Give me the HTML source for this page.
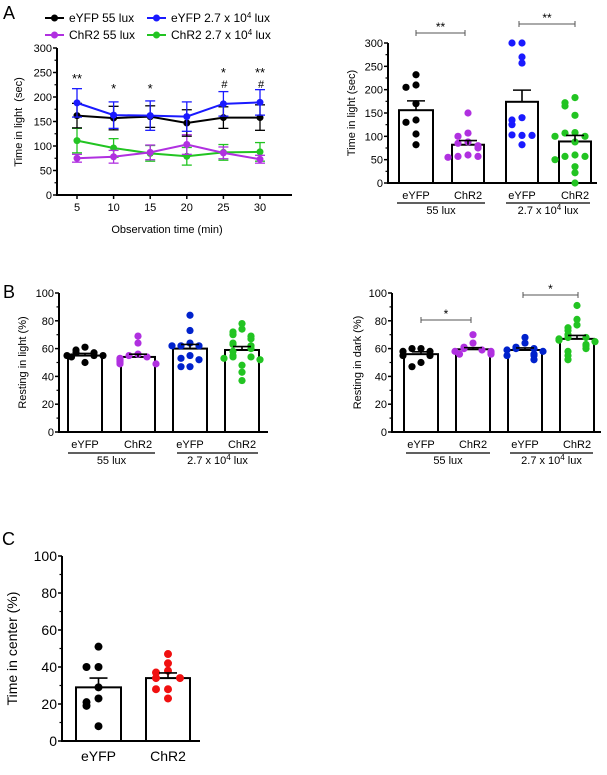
<!DOCTYPE html>
<html><head><meta charset="utf-8"><style>
body{margin:0;background:#fff}
svg{display:block;font-family:"Liberation Sans",Arial,sans-serif}
</style></head><body>
<svg id="fig" width="607" height="775" viewBox="0 0 607 775" xmlns="http://www.w3.org/2000/svg"></svg>
<script>
// ---- Panel A line chart data ----
const timeCats = [5,10,15,20,25,30];
const eyfp55Mean = [162,157,160,147,158,158];
const eyfp55Err  = [25,24,22,27,22,26];
const eyfpHiMean = [188,163,162,160,186,189];
const eyfpHiErr  = [29,27,30,30,25,26];
const chr55Mean  = [75,78,87,103,86,73];
const chr55Err   = [8,13,15,20,12,8];
const chrHiMean  = [111,96,85,79,87,88];
const chrHiErr   = [25,19,16,18,16,19];
const aYTicks = [0,50,100,150,200,250,300];
const aSigTop = ["**","*","*","","*","**"];
const aSigHash = ["","","","","#","#"];
// ---- Panel A bar data (time in light) ----
const aBarLabels = ["eYFP","ChR2","eYFP","ChR2"];
const aBarMeans = [156,82,174,89];
const aBarSem = [20,9,25,13];
const aPts0 = [232,210,205,170,135,130,105,82];
const aPts1 = [150,107,100,88,85,80,75,60,57,57,55];
const aPts2 = [300,300,270,257,140,135,125,102,103,102,82];
const aPts3 = [183,172,165,145,108,107,100,100,88,60,57,57,50,35,22,0];
// ---- Panel B left (resting in light) ----
const bLMeans = [55,54,60,59];
const bLSem = [1.5,2,3,2.5];
const bLPts0 = [61,59,57,57,55,55,55,54,50];
const bLPts1 = [69,64,56,55,54,53,52,51,50,49,49];
const bLPts2 = [84,73,64,62,62,62,55,53,52,47,47];
const bLPts3 = [78,74,72,70,69,67,64,63,62,60,58,55,54,54,53,52,48,43,37];
// ---- Panel B right (resting in dark) ----
const bRMeans = [56,59.5,59,67];
const bRSem = [1.7,1.2,1.5,2.5];
const bRPts0 = [60,60,58,58,55,55,50,47];
const bRPts1 = [70,64,61,60,59,58,58,57,56,56];
const bRPts2 = [68,64,61,60,60,59,58,56,55,55,52];
const bRPts3 = [91,81,77,75,73,70,68,68,67,66,65,63,62,60,58,55,52];
const pctTicks = [0,20,40,60,80,100];
// ---- Panel C (time in center) ----
const cLabels = ["eYFP","ChR2"];
const cMeans = [29,34];
const cSem = [5,2.8];
const cPts0 = [51,40,40,29,23,21,19,8];
const cPts1 = [47,42,38,37,34,34,28,28,23];

const svg = document.getElementById('fig');
const NS = 'http://www.w3.org/2000/svg';
function mk(tag, attrs, parent, name){
  const e = document.createElementNS(NS, tag);
  for (const k in attrs) e.setAttribute(k, attrs[k]);
  
  
  (parent||svg).appendChild(e);
  return e;
}
function txt(x,y,s,size,anchor,parent,name,extra){
  const t = mk('text',Object.assign({x:x,y:y,'font-size':size,'text-anchor':anchor||'middle',fill:'#000'},extra||{}),parent,name);
  t.innerHTML = s;
  return t;
}
function yAxis(g,x,y0,y1,vmin,vmax,ticks,fs,name){
  const sy = v => y0 - (v-vmin)/(vmax-vmin)*(y0-y1);
  mk('line',{x1:x,y1:y0+1,x2:x,y2:y1,stroke:'#000','stroke-width':2},g,name+'-line');
  ticks.forEach((t,i)=>{
    mk('line',{x1:x-4,y1:sy(t),x2:x,y2:sy(t),stroke:'#000','stroke-width':1.5},g,name+'-tick');
    txt(x-5,sy(t)+fs*0.36,t,fs,'end',g,name+'-label');
    if(i<ticks.length-1){const m=(t+ticks[i+1])/2;
      mk('line',{x1:x-2.5,y1:sy(m),x2:x,y2:sy(m),stroke:'#000','stroke-width':1.2},g,name+'-minor-tick');}
  });
  return sy;
}
function jitter(pts, w){
  const out=[]; const used=[];
  pts.forEach(v=>{
    let row = used.filter(u=>Math.abs(u-v)<w.tol).length;
    used.push(v);
    const pattern=[0,-1,1,-2,2,-1.5,1.5];
    out.push(pattern[row%pattern.length]*w.step);
  });
  return out;
}
function barPanel(o){
  const g = mk('g',{},svg,o.name);
  const sy = yAxis(g,o.ax,o.y0,o.y1,0,o.vmax,o.ticks,o.fs,o.name+'-y-axis');
  mk('line',{x1:o.ax-1,y1:o.y0,x2:o.axEnd,y2:o.y0,stroke:'#000','stroke-width':2},g,o.name+'-x-axis');
  o.means.forEach((m,i)=>{
    const [l,r]=o.bars[i], cx=(l+r)/2;
    mk('rect',{x:l,y:sy(m),width:r-l,height:o.y0-sy(m),fill:'#fff',stroke:'#000','stroke-width':2},g,o.name+'-bar-'+i);
    const offs = jitter(o.pts[i],{tol:o.tol,step:o.step});
    o.pts[i].forEach((v,j)=>{
      mk('circle',{cx:cx+offs[j],cy:sy(v),r:o.r,fill:o.colors[i]},g,o.name+'-point');
    });
    const ey = sy(m+o.sem[i]);
    mk('line',{x1:cx,y1:sy(m),x2:cx,y2:ey,stroke:'#000','stroke-width':1.6},g,o.name+'-error-'+i);
    mk('line',{x1:cx-9,y1:ey,x2:cx+9,y2:ey,stroke:'#000','stroke-width':1.6},g,o.name+'-error-cap-'+i);
    txt(cx,o.labY,o.labels[i],o.lfs,'middle',g,o.name+'-x-label');
  });
  if(o.groups){
    o.groups.forEach(gr=>{
      mk('line',{x1:gr[0],y1:o.gY,x2:gr[1],y2:o.gY,stroke:'#000','stroke-width':1.2},g,o.name+'-group-line');
      txt((gr[0]+gr[1])/2,o.gY+11,gr[2],11,'middle',g,o.name+'-group-label');
    });
  }
  (o.sig||[]).forEach(s=>{
    mk('line',{x1:s[0],y1:s[2],x2:s[1],y2:s[2],stroke:'#555','stroke-width':1},g,o.name+'-sig-bracket');
    mk('line',{x1:s[0],y1:s[2]-3,x2:s[0],y2:s[2]+3,stroke:'#555','stroke-width':1},g,o.name+'-sig-tick');
    mk('line',{x1:s[1],y1:s[2]-3,x2:s[1],y2:s[2]+3,stroke:'#555','stroke-width':1},g,o.name+'-sig-tick');
    txt((s[0]+s[1])/2,s[2]-2,s[3],12,'middle',g,o.name+'-sig-star');
  });
  const t=txt(0,0,o.ylabel,o.yfs,'middle',g,o.name+'-y-title');
  t.setAttribute('transform','translate('+o.ylx+','+((o.y0+o.y1)/2)+') rotate(-90)');
}

// ---- Panel A line chart ----
(function(){
  const g = mk('g',{},svg,'panel-a-line-chart');
  txt(3,19,'A',18,'start',g,'panel-a-letter');
  const sy = yAxis(g,57,195,48,0,300,aYTicks,11,'a-line-y-axis');
  const sx = v => 77 + (v-5)/25*183;
  mk('line',{x1:56,y1:195,x2:292,y2:195,stroke:'#000','stroke-width':2},g,'a-line-x-axis');
  timeCats.forEach(t=>{
    mk('line',{x1:sx(t),y1:195,x2:sx(t),y2:199,stroke:'#000','stroke-width':1.5},g,'a-line-x-tick');
    txt(sx(t),211,t,11,'middle',g,'a-line-x-label');
  });
  txt(167,233,'Observation time (min)',11,'middle',g,'a-line-x-title');
  const yt=txt(0,0,'Time in light&#160;&#160;(sec)',11,'middle',g,'a-line-y-title');
  yt.setAttribute('transform','translate(22,122) rotate(-90)');
  const series=[[eyfp55Mean,eyfp55Err,'#000'],[eyfpHiMean,eyfpHiErr,'#1a1aff'],[chr55Mean,chr55Err,'#b030e0'],[chrHiMean,chrHiErr,'#22c422']];
  const names=['eyfp-55','eyfp-2.7e4','chr2-55','chr2-2.7e4'];
  [3,2,0,1].forEach(si=>{
    const [m,e,c]=series[si];
    const pts=m.map((v,i)=>sx(timeCats[i])+','+sy(v)).join(' ');
    m.forEach((v,i)=>{
      const x=sx(timeCats[i]);
      mk('line',{x1:x,y1:sy(v-e[i]),x2:x,y2:sy(v+e[i]),stroke:c,'stroke-width':1.3},g,'line-error-'+names[si]);
      [v-e[i],v+e[i]].forEach(w=>mk('line',{x1:x-5,y1:sy(w),x2:x+5,y2:sy(w),stroke:c,'stroke-width':1.3},g,'line-error-cap-'+names[si]));
    });
    mk('polyline',{points:pts,fill:'none',stroke:c,'stroke-width':2},g,'line-'+names[si]);
    m.forEach((v,i)=>mk('circle',{cx:sx(timeCats[i]),cy:sy(v),r:3.5,fill:c},g,'point-'+names[si]));
  });
  timeCats.forEach((t,i)=>{
    if(aSigTop[i]) txt(sx(t),aSigHash[i]?77:(i==0?83:93),aSigTop[i],13,'middle',g,'a-sig-star');
    if(aSigHash[i]) txt(sx(t)+1,88,aSigHash[i],11,'middle',g,'a-sig-hash');
  });
  const leg=[[45,18,'#000','eYFP 55 lux'],[147,18,'#1a1aff','eYFP 2.7 x 10<tspan baseline-shift="super" font-size="8">4</tspan> lux'],[45,35,'#b030e0','ChR2 55 lux'],[147,35,'#22c422','ChR2 2.7 x 10<tspan baseline-shift="super" font-size="8">4</tspan> lux']];
  leg.forEach(l=>{
    const lg=mk('g',{},g,'legend-entry');
    mk('line',{x1:l[0],y1:l[1],x2:l[0]+19,y2:l[1],stroke:l[2],'stroke-width':2},lg,'legend-line');
    mk('circle',{cx:l[0]+9.5,cy:l[1],r:3.5,fill:l[2]},lg,'legend-marker');
    txt(l[0]+24,l[1]+4,l[3],12,'start',lg,'legend-label');
  });
})();

const grpLabels = (a,b,c,d)=>[[a,b,'55 lux'],[c,d,'2.7 x 10<tspan baseline-shift="super" font-size="8">4</tspan> lux']];

barPanel({name:'panel-a-bars',ax:388,axEnd:597,y0:183,y1:43,vmax:300,ticks:aYTicks,fs:11,
  means:aBarMeans,sem:aBarSem,pts:[aPts0,aPts1,aPts2,aPts3],bars:[[399,433],[452,484],[506,538],[559,591]],
  colors:['#000','#b030e0','#1a1aff','#22c422'],r:3.6,tol:12,step:10,labels:aBarLabels,labY:199,lfs:11,
  groups:grpLabels(397,485,506,590),gY:203,sig:[[416,465,33,'**'],[519,575,24,'**']],
  ylabel:'Time in light (sec)',ylx:355,yfs:11});

txt(3,298,'B',18,'start',svg,'panel-b-letter');
barPanel({name:'panel-b-left',ax:59,axEnd:268,y0:432,y1:293,vmax:100,ticks:pctTicks,fs:11,
  means:bLMeans,sem:bLSem,pts:[bLPts0,bLPts1,bLPts2,bLPts3],bars:[[68,102],[121,155],[173,207],[225,259]],
  colors:['#000','#b030e0','#0022cc','#22c422'],r:3.6,tol:3.5,step:9,labels:aBarLabels,labY:448,lfs:11,
  groups:grpLabels(68,155,177,258),gY:453,
  ylabel:'Resting in light (%)',ylx:26,yfs:11});

barPanel({name:'panel-b-right',ax:392,axEnd:601,y0:432,y1:293,vmax:100,ticks:pctTicks,fs:11,
  means:bRMeans,sem:bRSem,pts:[bRPts0,bRPts1,bRPts2,bRPts3],bars:[[404,438],[456,490],[508,542],[560,594]],
  colors:['#000','#b030e0','#0022cc','#22c422'],r:3.6,tol:3.5,step:9,labels:aBarLabels,labY:448,lfs:11,
  groups:grpLabels(406,490,510,593),gY:453,sig:[[421,471,320,'*'],[523,578,295,'*']],
  ylabel:'Resting in dark (%)',ylx:361,yfs:11});

txt(2,545,'C',18,'start',svg,'panel-c-letter');
barPanel({name:'panel-c',ax:62,axEnd:200,y0:741,y1:556,vmax:100,ticks:pctTicks,fs:14,
  means:cMeans,sem:cSem,pts:[cPts0,cPts1],bars:[[76,121],[146,190]],
  colors:['#000','#f01010'],r:4,tol:4,step:12,labels:cLabels,labY:761,lfs:14,
  ylabel:'Time in center (%)',ylx:17,yfs:14});
</script>
</body></html>
